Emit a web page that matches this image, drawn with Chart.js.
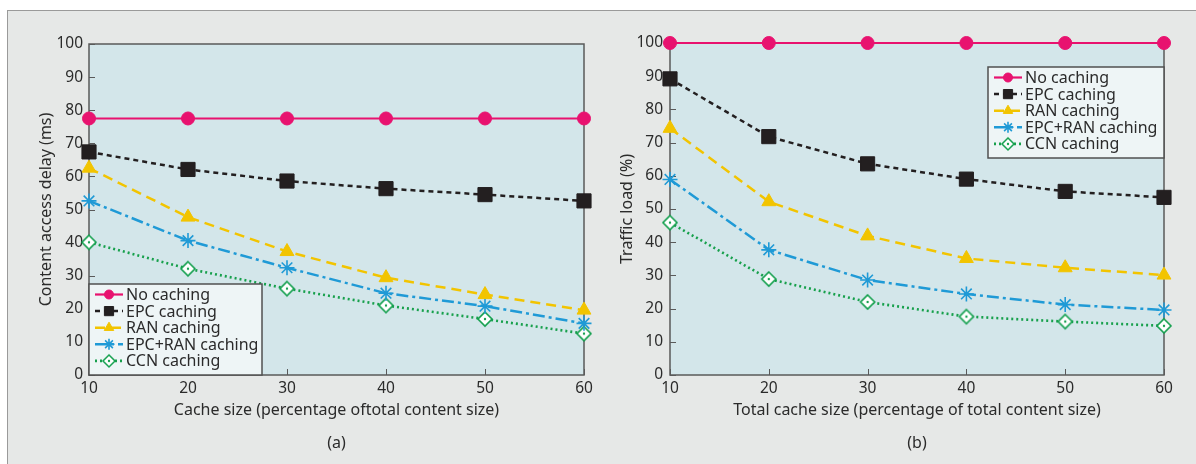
<!DOCTYPE html>
<html><head><meta charset="utf-8">
<script src="https://cdn.jsdelivr.net/npm/chart.js@4.4.1/dist/chart.umd.min.js"></script>
<style>
html,body{margin:0;padding:0;background:#fff;width:1196px;height:464px;overflow:hidden;}
#frame{position:absolute;left:7px;top:10px;width:1200px;height:470px;background:#e6e8e7;border-left:1.5px solid #9a9a9a;border-top:1.5px solid #9a9a9a;}
.wrap{position:absolute;top:0;width:598px;height:464px;}
canvas{display:block;}
</style></head><body>
<div id="frame"></div>
<div class="wrap" style="left:0"><canvas id="ca" width="598" height="464"></canvas></div>
<div class="wrap" style="left:598px"><canvas id="cb" width="598" height="464"></canvas></div>
<script>
// ---- data ----
const cacheSizes = [10, 20, 30, 40, 50, 60];
const seriesNames = ['No caching', 'EPC caching', 'RAN caching', 'EPC+RAN caching', 'CCN caching'];
// (a) content access delay (ms)
const delayNoCaching = [77.5, 77.5, 77.5, 77.5, 77.5, 77.5];
const delayEPC       = [67.4, 62.1, 58.6, 56.3, 54.5, 52.6];
const delayRAN       = [62.5, 47.7, 37.3, 29.4, 24.3, 19.6];
const delayEPCRAN    = [52.6, 40.6, 32.4, 24.7, 20.8, 15.6];
const delayCCN       = [40.1, 32.1, 26.1, 21.0, 16.9, 12.5];
// (b) traffic load (%)
const loadNoCaching = [100, 100, 100, 100, 100, 100];
const loadEPC       = [89.2, 71.8, 63.6, 59.0, 55.3, 53.5];
const loadRAN       = [74.3, 52.2, 41.9, 35.1, 32.3, 30.1];
const loadEPCRAN    = [58.9, 37.7, 28.6, 24.4, 21.2, 19.6];
const loadCCN       = [45.9, 28.9, 22.0, 17.6, 16.1, 14.8];
const yMin = 0, yMax = 100, yStep = 10;

// ---- styles ----
const FONT = '"Noto Sans", "DejaVu Sans", sans-serif';
const TEXT = '#2b2b2b';
function diamond(size, half, lw) {
  const c = document.createElement('canvas');
  c.width = size; c.height = size;
  const g = c.getContext('2d');
  const m = size / 2;
  g.beginPath();
  g.moveTo(m, m - half); g.lineTo(m + half, m); g.lineTo(m, m + half); g.lineTo(m - half, m); g.closePath();
  g.fillStyle = '#ffffff'; g.fill();
  g.lineWidth = lw; g.strokeStyle = '#14a04e'; g.stroke();
  g.beginPath(); g.arc(m, m, 1.2, 0, Math.PI * 2); g.fillStyle = '#14a04e'; g.fill();
  return c;
}
const diamondBig = diamond(18, 7, 1.6);
const diamondSmall = diamond(16, 6, 1.5);
const styles = [
  {color: '#e8126f', dash: [], width: 2.2, ps: 'circle', r: 6.5, lr: 4.5, fill: '#e8126f', bw: 1},
  {color: '#231f20', dash: [5, 4], width: 2.5, ps: 'rect', r: 10, lr: 6.5, fill: '#231f20', bw: 1},
  {color: '#f2c400', dash: [10, 6], width: 2.5, ps: 'triangle', r: 8, lr: 5.5, fill: '#f2c400', bw: 1},
  {color: '#1f9ad6', dash: [12, 4, 3, 4], width: 2.5, ps: 'star', r: 7.5, lr: 5.5, fill: '#1f9ad6', bw: 1.6},
  {color: '#17a04c', dash: [2, 3], width: 2.6, ps: diamondBig, lps: diamondSmall, r: 7, lr: 6, fill: '#ffffff', bw: 1.5}
];

const framePlugin = {
  id: 'frame',
  beforeDraw(chart) {
    const {ctx, chartArea: a} = chart;
    ctx.save();
    ctx.fillStyle = '#d3e6ea';
    ctx.fillRect(a.left, a.top, a.right - a.left, a.bottom - a.top);
    ctx.restore();
  },
  beforeDatasetsDraw(chart) {
    const {ctx, chartArea: a, scales} = chart;
    ctx.save();
    ctx.strokeStyle = '#5a5a5a'; ctx.lineWidth = 1.5;
    ctx.strokeRect(a.left, a.top, a.right - a.left, a.bottom - a.top);
    ctx.lineWidth = 1;
    ctx.beginPath();
    scales.y.ticks.forEach(t => {
      const y = Math.round(scales.y.getPixelForValue(t.value)) + 0.5;
      ctx.moveTo(a.left, y); ctx.lineTo(a.left + 6, y);
    });
    scales.x.ticks.forEach(t => {
      const x = Math.round(scales.x.getPixelForValue(t.value)) + 0.5;
      ctx.moveTo(x, a.bottom); ctx.lineTo(x, a.bottom - 6);
    });
    ctx.stroke();
    ctx.restore();
  },
  afterDraw(chart) {
    const {ctx, chartArea: a} = chart;
    const o = chart.options.plugins.frame;
    ctx.save();
    ctx.fillStyle = TEXT;
    ctx.font = '16px ' + FONT;
    ctx.textAlign = 'center'; ctx.textBaseline = 'middle';
    const cx = (a.left + a.right) / 2;
    ctx.fillText(o.xTitle, cx, 410);
    ctx.fillText(o.panel, cx, 443);
    ctx.restore();
  }
};

const legendPlugin = {
  id: 'boxLegend',
  afterDatasetsDraw(chart) {
    const {ctx, chartArea: a} = chart;
    const o = chart.options.plugins.boxLegend;
    const w = o.w, h = o.h;
    const x0 = o.anchor === 'bottomLeft' ? a.left : a.right - w;
    const y0 = o.anchor === 'bottomLeft' ? a.bottom - h : a.top + o.dy;
    ctx.save();
    ctx.fillStyle = '#eef5f6';
    ctx.fillRect(x0, y0, w, h);
    ctx.strokeStyle = '#505050'; ctx.lineWidth = 1.5;
    ctx.strokeRect(x0, y0, w, h);
    chart.data.datasets.forEach((ds, i) => {
      const s = styles[i];
      const y = y0 + 10.5 + i * 16.6;
      ctx.save();
      ctx.strokeStyle = s.color; ctx.lineWidth = s.width; ctx.setLineDash(s.dash);
      ctx.beginPath(); ctx.moveTo(x0 + 6, y); ctx.lineTo(x0 + 34, y); ctx.stroke();
      ctx.restore();
      ctx.save();
      ctx.fillStyle = s.fill; ctx.strokeStyle = s.color; ctx.lineWidth = s.bw;
      Chart.helpers.drawPoint(ctx, {pointStyle: s.lps || s.ps, radius: s.lr, rotation: 0, borderWidth: s.bw}, x0 + 20, y);
      ctx.restore();
      ctx.fillStyle = TEXT; ctx.font = '16px ' + FONT;
      ctx.textAlign = 'left'; ctx.textBaseline = 'middle';
      ctx.fillText(ds.label, x0 + 37, y + 1);
    });
    ctx.restore();
  }
};

function makeChart(id, series, cfg) {
  return new Chart(document.getElementById(id), {
    type: 'line',
    data: {
      datasets: series.map((vals, i) => ({
        label: seriesNames[i],
        data: cacheSizes.map((x, j) => ({x: x, y: vals[j]})),
        borderColor: styles[i].color, borderWidth: styles[i].width, borderDash: styles[i].dash,
        pointStyle: styles[i].ps, pointRadius: styles[i].r, pointHoverRadius: styles[i].r,
        pointBackgroundColor: styles[i].fill, pointBorderColor: styles[i].color,
        pointBorderWidth: styles[i].bw,
        fill: false, tension: 0, clip: false
      }))
    },
    options: {
      responsive: false, animation: false, devicePixelRatio: 1,
      layout: {padding: {left: 0, top: cfg.top, right: cfg.right, bottom: 0}},
      plugins: {
        legend: {display: false}, tooltip: {enabled: false},
        frame: {xTitle: cfg.xTitle, panel: cfg.panel},
        boxLegend: cfg.legend
      },
      scales: {
        x: {
          type: 'linear', min: cacheSizes[0], max: cacheSizes[cacheSizes.length - 1],
          ticks: {stepSize: 10, font: {family: FONT, size: 15.5}, color: TEXT, padding: 4},
          grid: {display: false, drawTicks: false}, border: {display: false},
          afterFit(s) { s.height = 89; }
        },
        y: {
          min: yMin, max: yMax,
          ticks: {stepSize: yStep, font: {family: FONT, size: 15.5}, color: TEXT, padding: cfg.ypad},
          grid: {display: false, drawTicks: false}, border: {display: false},
          title: {display: true, text: cfg.yTitle, color: TEXT, font: {family: FONT, size: 16}, padding: {top: cfg.titlePad, bottom: 0}},
          afterFit(s) { s.width = cfg.yw; }
        }
      }
    },
    plugins: [framePlugin, legendPlugin]
  });
}

makeChart('ca', [delayNoCaching, delayEPC, delayRAN, delayEPCRAN, delayCCN], {
  top: 44, right: 14, yw: 89, ypad: 6, titlePad: 37,
  yTitle: 'Content access delay (ms)',
  xTitle: 'Cache size (percentage oftotal content size)', panel: '(a)',
  legend: {anchor: 'bottomLeft', w: 173, h: 91}
});
makeChart('cb', [loadNoCaching, loadEPC, loadRAN, loadEPCRAN, loadCCN], {
  top: 43, right: 32, yw: 72, ypad: 7, titlePad: 20,
  yTitle: 'Traffic load (%)',
  xTitle: 'Total cache size (percentage of total content size)', panel: '(b)',
  legend: {anchor: 'topRight', w: 176, h: 91, dy: 24}
});
</script>
</body></html>
